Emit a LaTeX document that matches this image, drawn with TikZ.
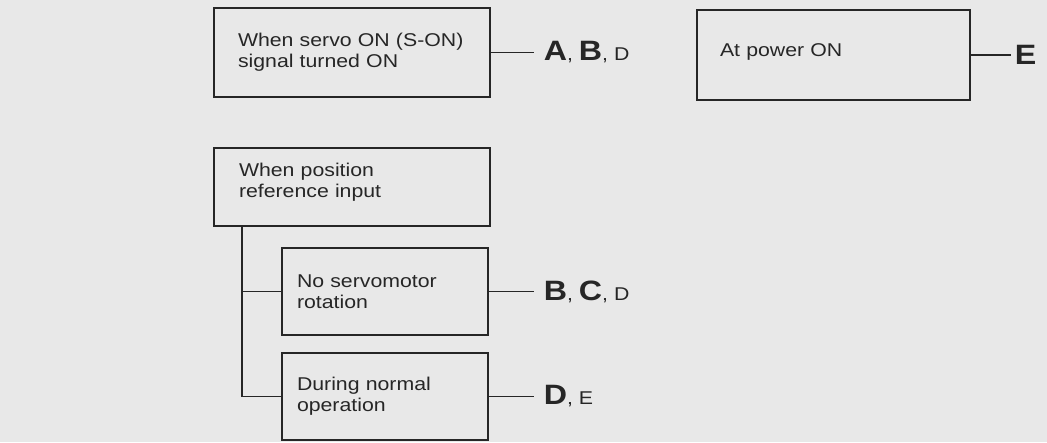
\documentclass[tikz,border=0pt]{standalone}
\usepackage{fontspec}
\setmainfont[FakeStretch=1.15]{Liberation Sans}
\usetikzlibrary{positioning}
\tikzset{
  box/.style={draw=black!85,line width=1.4pt,align=left,text=black!85,
    font=\fontsize{18.5}{21}\selectfont},
  keys/.style={inner xsep=10pt,inner ysep=0pt,text=black!85,
    font=\fontsize{18.5}{21}\selectfont},
  conn/.style={draw=black!85,line width=1.8pt},
}
\newcommand{\bigkey}[1]{{\fontsize{28}{28}\selectfont\bfseries #1}}
\begin{document}
\begin{tikzpicture}[x=1pt,y=-1pt]
  % 背景
  \fill[gray!18] (0,0) rectangle (1047,442);
  \useasboundingbox (0,0) rectangle (1047,442);

  % 方框
  \node[box,inner xsep=24pt,text width=228pt,minimum height=89pt] (servo) at (352,52.5)
       {When servo ON (S-ON)\\signal turned ON};
  \node[box,inner xsep=23pt,text width=227pt,minimum height=90pt,text depth=10pt] (power) at (833.5,55)
       {At power ON};
  \node[box,inner xsep=25pt,text width=226pt,minimum height=78pt,text depth=34pt] (posref) at (352,187)
       {When position\\reference input};
  \node[box,inner xsep=15pt,text width=176pt,minimum height=87pt] (norot) at (385,291.5)
       {No servomotor\\rotation};
  \node[box,inner xsep=15pt,text width=176pt,minimum height=87pt] (normal) at (385,396.5)
       {During normal\\operation};

  % 标签
  \node[keys,right=43pt of servo] (servokeys) {\bigkey{A}, \bigkey{B}, D};
  \node[keys,right=40pt of power,inner xsep=4pt] (powerkeys) {\bigkey{E}};
  \node[keys,right=45pt of norot] (norotkeys) {\bigkey{B}, \bigkey{C}, D};
  \node[keys,right=45pt of normal] (normalkeys) {\bigkey{D}, E};

  % 连线
  \draw[conn] (servo) -- (servokeys);
  \draw[conn] (power) -- (powerkeys);
  \draw[conn] (norot) -- (norotkeys);
  \draw[conn] (normal) -- (normalkeys);
  \coordinate (trunk) at ([xshift=29pt]posref.south west);
  \draw[conn] (trunk) |- (normal.west);
  \draw[conn] (trunk |- norot.west) -- (norot.west);
\end{tikzpicture}
\end{document}
